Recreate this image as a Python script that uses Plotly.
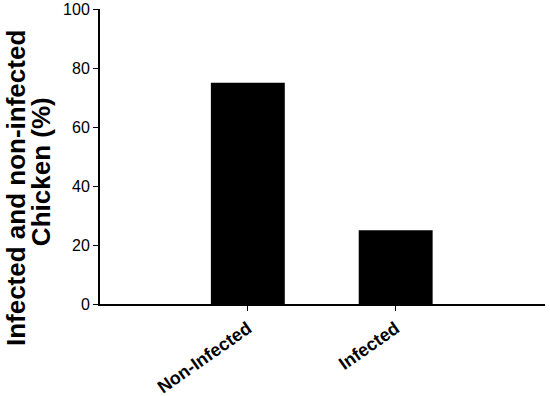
import plotly.graph_objects as go

categories = ["Non-Infected", "Infected"]
percent = [75, 25]
y_ticks = [0, 20, 40, 60, 80, 100]
title_lines = ["Infected and non-infected", "Chicken (%)"]

fig = go.Figure()
fig.add_trace(go.Bar(x=[0, 1], y=percent, width=0.5,
                     marker=dict(color="black", line=dict(width=0))))

fig.update_layout(
    width=550, height=396,
    margin=dict(l=100, r=5, t=9, b=92),
    plot_bgcolor="white", paper_bgcolor="white",
    showlegend=False,
    font=dict(family="Liberation Sans, Arial", color="black"),
)
fig.update_xaxes(
    range=[-1, 2.01], tickmode="array", tickvals=[0, 1],
    ticktext=["<b>%s</b>" % c for c in categories],
    tickangle=-35, tickfont=dict(size=18),
    showline=True, linecolor="black", linewidth=2,
    ticks="outside", ticklen=5, tickwidth=1, tickcolor="black",
    showgrid=False, zeroline=False, automargin=False,
)
fig.update_yaxes(
    range=[0, 100], tickvals=y_ticks,
    tickfont=dict(size=16),
    showline=True, linecolor="black", linewidth=2,
    ticks="outside", ticklen=5, tickwidth=1, tickcolor="black",
    showgrid=False, zeroline=False, automargin=False,
)

# two-line y title as rotated annotations (tighter line spacing than a <br> title)
for line, xs, yy in zip(title_lines, [-84, -59], [0.393, 0.447]):
    fig.add_annotation(text="<b>%s</b>" % line, xref="paper", yref="paper",
                       x=0, y=yy, xshift=xs, xanchor="center", yanchor="middle",
                       textangle=-90, showarrow=False, font=dict(size=26))

fig.write_html("out.html", config={"displayModeBar": False},
               post_script="document.body.style.margin='0';")
